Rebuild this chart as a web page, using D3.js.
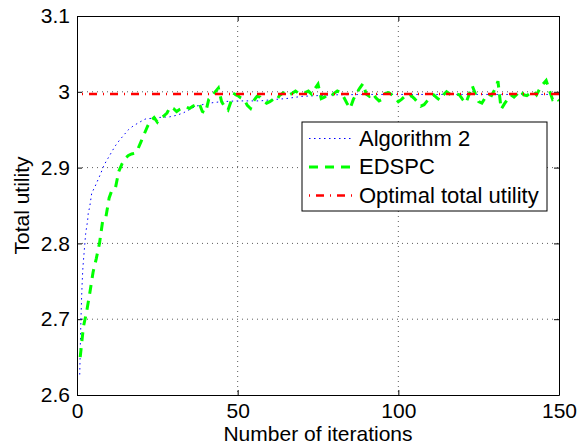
<!DOCTYPE html>
<html>
<head>
<meta charset="utf-8">
<script src="https://cdn.jsdelivr.net/npm/d3@7"></script>
<style>
  body { margin: 0; background: #fff; }
  svg { display: block; font-family: "Liberation Sans", Arial, sans-serif; }
</style>
</head>
<body>
<div id="chart"></div>
<script>
// Algorithm 2
var algIter = [0.85, 1.05, 1.25, 1.45, 1.65, 1.85, 2.27, 2.7, 3.3, 3.5, 3.95, 4.57, 5.6, 7.16, 8.5,
  10.3, 11.8, 13.2, 14.6, 16, 17.5, 19.1, 21.2, 25, 28.9, 31, 33, 37, 41, 45, 50, 57, 61.6, 65,
  70, 75, 80, 90, 100, 110, 120, 130, 140, 150];
var algUtil = [2.627, 2.669, 2.703, 2.731, 2.752, 2.769, 2.791, 2.813, 2.830, 2.840, 2.848, 2.866, 2.875, 2.890, 2.904,
  2.917, 2.928, 2.936, 2.943, 2.950, 2.955, 2.959, 2.964, 2.966, 2.967, 2.969, 2.972, 2.981, 2.985, 2.987, 2.988, 2.988, 2.990, 2.991,
  2.994, 2.995, 2.996, 2.9965, 2.9965, 2.9965, 2.9965, 2.9965, 2.9965, 2.9965];

// EDSPC, one value per iteration 1..150
var edspcUtil = [
  2.650, 2.690, 2.710, 2.735, 2.762, 2.780, 2.800, 2.830, 2.835, 2.860,
  2.872, 2.874, 2.895, 2.905, 2.912, 2.916, 2.918, 2.919, 2.925, 2.935,
  2.945, 2.955, 2.962, 2.966, 2.960, 2.966, 2.968, 2.972, 2.980, 2.978,
  2.974, 2.977, 2.979, 2.980, 2.978, 2.981, 2.983, 2.985, 2.974, 2.972,
  2.990, 2.994, 3.000, 3.005, 2.987, 2.980, 2.976, 2.988, 2.997, 2.995,
  2.992, 2.990, 2.982, 2.978, 2.988, 2.994, 2.993, 2.988, 2.985, 2.987,
  2.990, 2.988, 2.995, 2.998, 3.000, 2.996, 2.998, 3.001, 2.998, 3.000,
  2.999, 3.001, 2.997, 3.004, 3.010, 2.991, 2.993, 2.996, 2.994, 2.998,
  3.001, 2.999, 2.993, 2.985, 2.978, 2.990, 2.998, 3.005, 3.011, 2.997,
  2.994, 2.998, 2.992, 2.988, 2.990, 2.998, 2.999, 2.996, 2.992, 2.987,
  2.990, 2.994, 2.992, 2.995, 2.991, 2.986, 2.981, 2.983, 2.988, 2.993,
  2.996, 2.992, 2.989, 2.996, 3.000, 2.997, 2.996, 2.997, 2.996, 2.990,
  2.985, 2.996, 3.008, 2.997, 2.987, 2.985, 2.992, 2.997, 2.995, 3.003,
  3.014, 2.977, 2.984, 2.990, 2.996, 2.993, 2.997, 3.002, 2.996, 2.995,
  2.998, 3.001, 2.996, 3.004, 3.010, 3.015, 3.002, 2.990, 2.993, 2.988];

// optimal total utility (flat)
var optIter = [0, 150];
var optUtil = [2.997, 2.997];

var xTicks = [0, 50, 100, 150];
var yTicks = [2.6, 2.7, 2.8, 2.9, 3.0, 3.1];
var legendNames = ["Algorithm 2", "EDSPC", "Optimal total utility"];

var W = 580, H = 446;
var x0 = 77, x1 = 559, yTop = 16, yBot = 395;

var svg = d3.select("#chart").append("svg")
    .attr("width", W)
    .attr("height", H);

var x = d3.scaleLinear().domain([0, 150]).range([x0, x1]);
var y = d3.scaleLinear().domain([2.6, 3.1]).range([yBot, yTop]);

svg.append("defs").append("clipPath").attr("id", "clip")
  .append("rect")
    .attr("x", x0).attr("y", yTop)
    .attr("width", x1 - x0).attr("height", yBot - yTop);

// grid
var grid = svg.append("g");
grid.selectAll("line.gx")
    .data(xTicks.slice(1, -1))
    .enter().append("line")
    .attr("x1", function(d) { return x(d); })
    .attr("x2", function(d) { return x(d); })
    .attr("y1", yTop).attr("y2", yBot)
    .attr("stroke", "#333").attr("stroke-width", 0.8)
    .attr("stroke-dasharray", "1,4");
grid.selectAll("line.gy")
    .data(yTicks.slice(1, -1))
    .enter().append("line")
    .attr("y1", function(d) { return y(d); })
    .attr("y2", function(d) { return y(d); })
    .attr("x1", x0).attr("x2", x1)
    .attr("stroke", "#333").attr("stroke-width", 0.8)
    .attr("stroke-dasharray", "1,4");

// axes (MATLAB style, inward ticks on all sides)
var tl = 5;
svg.append("g").attr("transform", "translate(0," + yBot + ")")
    .call(d3.axisBottom(x).tickValues(xTicks).tickSizeInner(-tl).tickSizeOuter(0).tickPadding(8).tickFormat(d3.format("d")));
svg.append("g").attr("transform", "translate(0," + yTop + ")")
    .call(d3.axisTop(x).tickValues(xTicks).tickSizeInner(-tl).tickSizeOuter(0).tickFormat(""));
svg.append("g").attr("transform", "translate(" + x0 + ",0)")
    .call(d3.axisLeft(y).tickValues(yTicks).tickSizeInner(-tl).tickSizeOuter(0).tickPadding(7)
      .tickFormat(function(d) { return Math.abs(d - 3) < 1e-9 ? "3" : d3.format(".1f")(d); }));
svg.append("g").attr("transform", "translate(" + x1 + ",0)")
    .call(d3.axisRight(y).tickValues(yTicks).tickSizeInner(-tl).tickSizeOuter(0).tickFormat(""));

svg.selectAll(".domain").attr("stroke", "#000").attr("stroke-width", 1);
svg.selectAll(".tick line").attr("stroke", "#000");
svg.selectAll(".tick text").attr("fill", "#000").style("font-size", "21px")
    .style("font-family", "'Liberation Sans', Arial, sans-serif");

// lines
var plot = svg.append("g").attr("clip-path", "url(#clip)");

var line = d3.line()
    .x(function(d) { return x(d[0]); })
    .y(function(d) { return y(d[1]); });

var algData = algIter.map(function(k, i) { return [k, algUtil[i]]; });
var edspcData = edspcUtil.map(function(v, i) { return [i + 1, v]; });
var optData = optIter.map(function(k, i) { return [k, optUtil[i]]; });

plot.append("path")
    .attr("d", line(algData))
    .attr("fill", "none")
    .attr("stroke", "#0000ff")
    .attr("stroke-width", 1)
    .attr("stroke-dasharray", "1.5,3.5");

plot.append("path")
    .attr("d", line(edspcData))
    .attr("fill", "none")
    .attr("stroke", "#00ff00")
    .attr("stroke-width", 3)
    .attr("stroke-dasharray", "9,7");

plot.append("path")
    .attr("d", line(optData))
    .attr("fill", "none")
    .attr("stroke", "#ff0000")
    .attr("stroke-width", 2.5)
    .attr("stroke-dasharray", "8,6,1,6")
    .attr("stroke-dashoffset", 9);

// axis labels
svg.append("text")
    .attr("x", (x0 + x1) / 2)
    .attr("y", 441)
    .attr("text-anchor", "middle")
    .style("font-size", "21px")
    .text("Number of iterations");

svg.append("text")
    .attr("transform", "translate(29," + ((yTop + yBot) / 2) + ") rotate(-90)")
    .attr("text-anchor", "middle")
    .style("font-size", "21px")
    .text("Total utility");

// legend
var lg = svg.append("g");
lg.append("rect")
    .attr("x", 302).attr("y", 122)
    .attr("width", 245).attr("height", 89)
    .attr("fill", "#fff").attr("stroke", "#000").attr("stroke-width", 1);

var legStyles = [
  {color: "#0000ff", width: 1, dash: "1.5,3.5"},
  {color: "#00ff00", width: 3, dash: "9,7"},
  {color: "#ff0000", width: 2.5, dash: "1,6,8,6"}
];

var rows = lg.selectAll("g.row")
    .data(legendNames)
    .enter().append("g")
    .attr("transform", function(d, i) { return "translate(0," + (145.5 + i * 28.5) + ")"; });

rows.append("line")
    .attr("x1", 309).attr("x2", 353)
    .attr("y1", -7).attr("y2", -7)
    .attr("stroke", function(d, i) { return legStyles[i].color; })
    .attr("stroke-width", function(d, i) { return legStyles[i].width; })
    .attr("stroke-dasharray", function(d, i) { return legStyles[i].dash; });

rows.append("text")
    .attr("x", 359)
    .attr("y", 0)
    .style("font-size", "22px")
    .text(function(d) { return d; });
</script>
</body>
</html>
